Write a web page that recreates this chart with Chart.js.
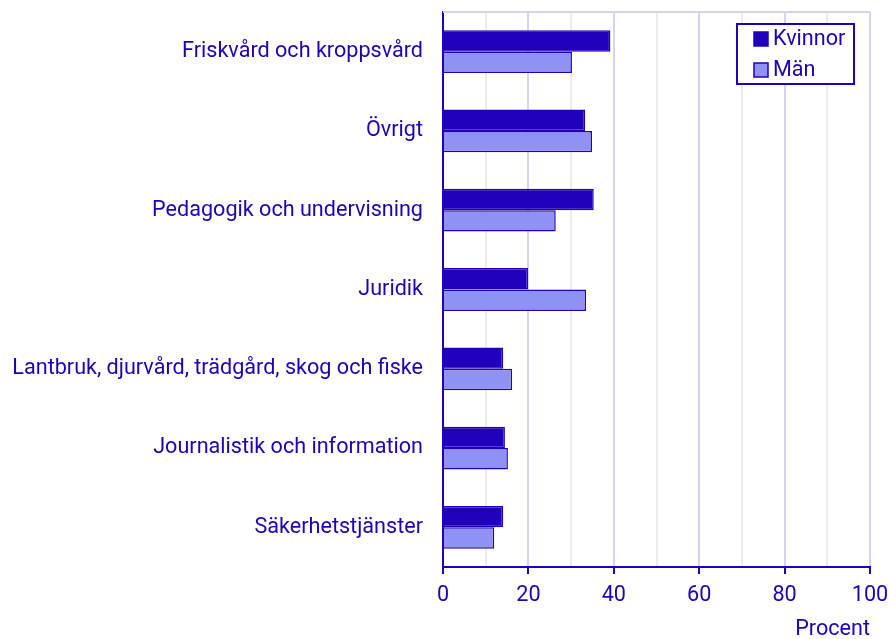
<!DOCTYPE html>
<html>
<head>
<meta charset="utf-8">
<script src="https://cdn.jsdelivr.net/npm/chart.js@4"></script>
<style>
  html, body { margin: 0; padding: 0; background: #fff; }
  #wrap { width: 890px; height: 639px; }
</style>
</head>
<body>
<div id="wrap"><canvas id="chart"></canvas></div>
<script>
// Data
const categories = [
  'Friskvård och kroppsvård',
  'Övrigt',
  'Pedagogik och undervisning',
  'Juridik',
  'Lantbruk, djurvård, trädgård, skog och fiske',
  'Journalistik och information',
  'Säkerhetstjänster'
];
const kvinnor = [39.2, 33.3, 35.3, 19.9, 14.1, 14.5, 14.1];
const man = [30.2, 34.9, 26.4, 33.5, 16.2, 15.2, 12.0];
const xTicks = [0, 20, 40, 60, 80, 100];

const dark = '#2200bb';
const light = '#8f92f2';
const textColor = '#2000b8';
const fontSize = 21.6;

// legend box inside the plot, top right
const boxLegend = {
  id: 'boxLegend',
  afterDraw(chart) {
    const ctx = chart.ctx;
    const area = chart.chartArea;
    const w = 117, h = 60;
    const x = area.right - 16 - w;
    const y = area.top + 12;
    ctx.save();
    ctx.fillStyle = '#fff';
    ctx.fillRect(x, y, w, h);
    ctx.strokeStyle = dark;
    ctx.lineWidth = 2;
    ctx.strokeRect(x, y, w, h);
    ctx.font = fontSize + 'px Roboto';
    ctx.textBaseline = 'middle';
    chart.data.datasets.forEach((ds, i) => {
      const cy = y + 15 + i * 31;
      ctx.fillStyle = ds.backgroundColor;
      ctx.fillRect(x + 17, cy - 7, 14, 14);
      ctx.strokeStyle = dark;
      ctx.lineWidth = 1.5;
      ctx.strokeRect(x + 17, cy - 7, 14, 14);
      ctx.fillStyle = textColor;
      ctx.fillText(ds.label, x + 36, cy + 1);
    });
    ctx.restore();
  }
};

// top border of the plot
const topLine = {
  id: 'topLine',
  beforeDatasetsDraw(chart) {
    const ctx = chart.ctx;
    const area = chart.chartArea;
    ctx.save();
    ctx.strokeStyle = '#d6d3f2';
    ctx.lineWidth = 2;
    ctx.beginPath();
    ctx.moveTo(area.left, area.top);
    ctx.lineTo(area.right, area.top);
    ctx.stroke();
    ctx.restore();
  }
};

const ctx_chart = document.getElementById('chart');

new Chart(ctx_chart, {
  type: 'bar',
  data: {
    labels: categories,
    datasets: [{
      label: 'Kvinnor',
      data: kvinnor,
      backgroundColor: dark,
      borderColor: dark,
      borderWidth: 1.5,
      categoryPercentage: 0.54,
      barPercentage: 1.0
    },
    {
      label: 'Män',
      data: man,
      backgroundColor: light,
      borderColor: dark,
      borderWidth: 1.5,
      categoryPercentage: 0.54,
      barPercentage: 1.0
    }]
  },
  options: {
    indexAxis: 'y',
    responsive: true,
    maintainAspectRatio: false,
    animation: false,
    layout: {
      padding: { top: 12, right: 20, left: 0, bottom: 0 }
    },
    scales: {
      x: {
        min: 0,
        max: 100,
        ticks: {
          stepSize: 10,
          color: textColor,
          font: { family: 'Roboto', size: fontSize },
          padding: 9,
          maxRotation: 0,
          callback: (v) => xTicks.includes(v) ? v : ''
        },
        grid: {
          color: (c) => (c.tick && c.tick.value % 20 === 0) ? '#d6d3f2' : '#ececf0',
          lineWidth: 2,
          tickColor: (c) => (c.tick && c.tick.value % 20 === 0) ? dark : 'rgba(0,0,0,0)',
          tickLength: 7
        },
        border: { color: dark, width: 2 },
        title: {
          display: true,
          text: 'Procent',
          align: 'end',
          color: textColor,
          font: { family: 'Roboto', size: fontSize },
          padding: { top: 2, bottom: -4 }
        },
        afterFit: (scale) => { scale.height = 72; scale.paddingLeft = 0; scale.paddingRight = 0; }
      },
      y: {
        ticks: {
          color: textColor,
          font: { family: 'Roboto', size: fontSize },
          padding: 20
        },
        grid: { display: false, drawTicks: false },
        border: { color: dark, width: 2 },
        afterFit: (scale) => {
          scale.width = 443;
          scale.paddingTop = 0;
          scale.paddingBottom = 0;
        }
      }
    },
    plugins: {
      legend: { display: false },
      tooltip: { enabled: false }
    }
  },
  plugins: [topLine, boxLegend]
});
</script>
</body>
</html>
